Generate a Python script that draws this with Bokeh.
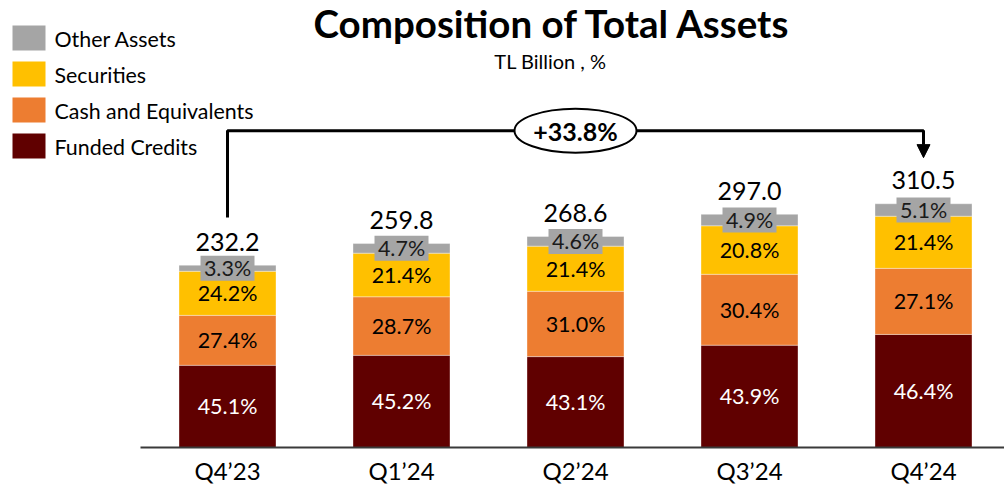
from bokeh.plotting import figure
from bokeh.models import Range1d, ColumnDataSource, Arrow, NormalHead
from bokeh.core.properties import value
from bokeh.embed import file_html
from bokeh.resources import INLINE

# ---------------- data ----------------
quarters = ["Q4’23", "Q1’24", "Q2’24", "Q3’24", "Q4’24"]
totals = [232.2, 259.8, 268.6, 297.0, 310.5]          # TL Billion
funded_credits = [45.1, 45.2, 43.1, 43.9, 46.4]       # %
cash_equivalents = [27.4, 28.7, 31.0, 30.4, 27.1]     # %
securities = [24.2, 21.4, 21.4, 20.8, 21.4]           # %
other_assets = [3.3, 4.7, 4.6, 4.9, 5.1]              # %
series_names = ["Funded Credits", "Cash and Equivalents", "Securities", "Other Assets"]
series_colors = ["#600000", "#ED7D31", "#FFC000", "#A5A5A5"]
label_colors = ["white", "black", "black", "black"]
growth_label = "+33.8%"
title_text = "Composition of Total Assets"
subtitle_text = "TL Billion , %"

FONT = value("Lato")

# ---------------- scales (page px -> data) ----------------
K = 0.785      # px per TL bn
X0, DX = 227.0, 174.0
BASE = 447.0
OX, OY = 0, 0   # page origin of the figure


def dx(px):
    return (px - X0) / DX


def dy(py):
    return (BASE - py) / K


W, H = 1004, 485
p = figure(width=W, height=H, output_backend="svg", toolbar_location=None,
           x_range=Range1d(dx(OX), dx(OX + W)), y_range=Range1d(dy(OY + H), dy(OY)),
           min_border=0)
p.min_border_left = p.min_border_right = p.min_border_top = p.min_border_bottom = 0
p.xaxis.visible = False
p.yaxis.visible = False
p.xgrid.visible = False
p.ygrid.visible = False
p.outline_line_color = None
p.background_fill_color = "white"
p.border_fill_color = "white"

xs = list(range(len(quarters)))
pcts = [funded_credits, cash_equivalents, securities, other_assets]
keys = ["funded", "cash", "sec", "other"]
data = {"x": xs}
for k, arr in zip(keys, pcts):
    data[k] = [t * v / 100.0 for t, v in zip(totals, arr)]
src = ColumnDataSource(data)
p.vbar_stack(keys, x="x", width=97 / DX, source=src, color=series_colors,
             line_color="white", line_width=0.6, line_alpha=0.6)

# baseline
p.segment(x0=[dx(140)], y0=[0], x1=[dx(1004)], y1=[0], line_color="#3a3a3a", line_width=2)

# segment labels
for si in range(3):
    lx, ly, lt = [], [], []
    for i, t in enumerate(totals):
        bottom = sum(t * pcts[j][i] / 100.0 for j in range(si))
        h = t * pcts[si][i] / 100.0
        lx.append(i)
        ly.append(bottom + h / 2)
        lt.append(f"{pcts[si][i]:.1f}%")
    p.text(x=lx, y=ly, text=lt, text_font=FONT, text_font_size="21.5px",
           text_color=label_colors[si], text_align="center", text_baseline="middle")

# other assets boxes
ox, oy, ot = [], [], []
for i, t in enumerate(totals):
    h = t * other_assets[i] / 100.0
    ox.append(i)
    oy.append(t - h / 2)
    ot.append(f"{other_assets[i]:.1f}%")
p.rect(x=ox, y=oy, width=54, height=25, width_units="screen", height_units="screen",
       fill_color="#A5A5A5", line_color=None)
p.text(x=ox, y=oy, text=ot, text_font=FONT, text_font_size="21.5px", text_color="#1a1a1a",
       text_align="center", text_baseline="middle")

# totals
p.text(x=xs, y=[t + 23.5 / K for t in totals], text=[f"{t:.1f}" for t in totals],
       text_font=FONT, text_font_size="25px", text_color="black",
       text_align="center", text_baseline="middle")

# category labels
p.text(x=xs, y=[dy(470)] * len(xs), text=quarters, text_font=FONT, text_font_size="24px",
       text_color="black", text_align="center", text_baseline="middle")

# growth bracket
bracket_y = max(totals) * 1.3
left_bottom = totals[0] + 60.8
p.line(x=[xs[0], xs[0], xs[-1], xs[-1]], y=[left_bottom, bracket_y, bracket_y, bracket_y - 12 / K],
       line_color="black", line_width=3)
p.add_layout(Arrow(end=NormalHead(size=13, fill_color="black", line_color="black"),
                   x_start=xs[-1], y_start=bracket_y - 10 / K, x_end=xs[-1], y_end=bracket_y - 27 / K,
                   line_color="black", line_width=3))
p.ellipse(x=[2], y=[bracket_y], width=122, height=44, width_units="screen", height_units="screen",
          fill_color="white", line_color="black", line_width=2)
p.text(x=[2], y=[bracket_y], text=[growth_label], text_font=FONT, text_font_style="bold",
       text_font_size="25px", text_color="black", text_align="center", text_baseline="middle")

# title
p.text(x=[dx(552)], y=[dy(22)], text=[title_text], text_font=FONT, text_font_style="bold",
       text_font_size="38.5px", text_color="black", text_align="center", text_baseline="middle")
p.text(x=[dx(550)], y=[dy(60)], text=[subtitle_text], text_font=FONT,
       text_font_size="20px", text_color="black", text_align="center", text_baseline="middle")

# legend (top-left)
leg_names = series_names[::-1]
leg_colors = series_colors[::-1]
leg_y = [dy(37.5 + 36 * i) for i in range(4)]
p.rect(x=[dx(28.5)] * 4, y=leg_y, width=33, height=25, width_units="screen", height_units="screen",
       fill_color=leg_colors, line_color=None)
p.text(x=[dx(54)] * 4, y=[dy(38.5 + 36 * i) for i in range(4)], text=leg_names, text_font=FONT,
       text_font_size="21.4px", text_color="black", text_align="left", text_baseline="middle")

open("out.html", "w").write(file_html(p, INLINE))
